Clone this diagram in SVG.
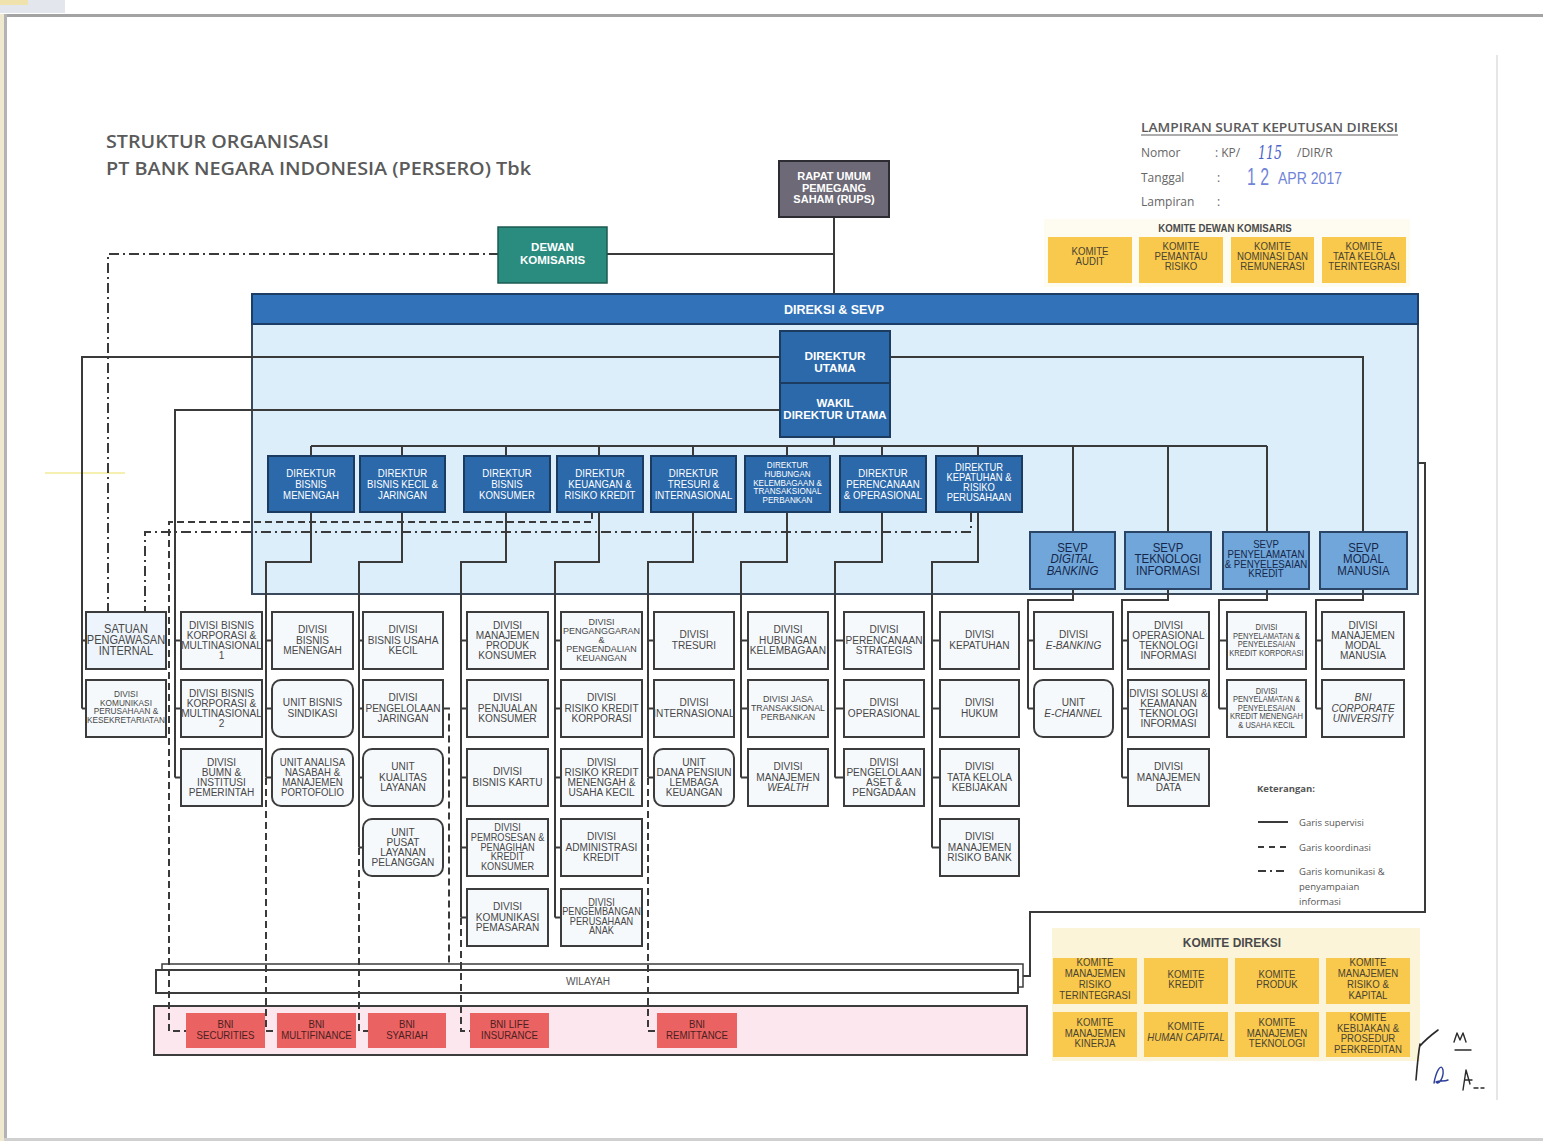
<svg xmlns="http://www.w3.org/2000/svg" width="1543" height="1141" viewBox="0 0 1543 1141">
<style>
  .t{font-family:"Liberation Sans",Arial,sans-serif;text-anchor:middle;transform-box:fill-box;transform-origin:50% 50%;transform:scaleX(0.92)}
  .ns{transform:none}
  .dv{font-size:11px;fill:#474747}
  .xs{font-size:8.2px}
  .wt{fill:#fff}
  .b{font-weight:bold}
  .dk{fill:#16264a}
  .it{font-style:italic}
  .km{font-size:10.5px;fill:#4a4232}
  .ln{fill:none;stroke:#3a3a3a;stroke-width:2}
  .dsh{stroke-dasharray:7 4}
  .dd{stroke-dasharray:10 4 2 4}
  .box{fill:#f6f9fc;stroke:#3c3c3c;stroke-width:2}
  .dir{fill:#2b69ab;stroke:#1b3b60;stroke-width:2}
  .sevp{fill:#70a6d9;stroke:#2a4565;stroke-width:2}
  .kom{fill:#f8c94c}
  .sub{fill:#ea6262}
  .hd{font-family:"Open Sans","Liberation Sans",sans-serif;fill:#5a5a5a}
</style>

<!-- page and viewer frame -->
<rect x="0" y="0" width="1543" height="1141" fill="#ffffff"/>
<rect x="0" y="0" width="65" height="13" fill="#e3e6ed"/>
<rect x="0" y="0" width="28" height="5" fill="#f0e2ad"/>
<rect x="0" y="14" width="4" height="1127" fill="#efe9cf"/>
<rect x="4" y="14" width="1539" height="3" fill="#a3a3a3"/>
<rect x="4" y="14" width="3" height="1127" fill="#b3b3b3"/>
<rect x="4" y="1138" width="1539" height="3" fill="#d0d0d0"/>
<line x1="1497" y1="55" x2="1497" y2="1100" stroke="#e6e6e6" stroke-width="2"/>
<line x1="45" y1="473" x2="125" y2="473" stroke="#f6f0b0" stroke-width="2"/>

<!-- title -->
<g id="title" class="hd" font-weight="600" font-size="18.5">
  <text x="106" y="148" textLength="223" lengthAdjust="spacingAndGlyphs">STRUKTUR ORGANISASI</text>
  <text x="106" y="175" textLength="425" lengthAdjust="spacingAndGlyphs">PT BANK NEGARA INDONESIA (PERSERO) Tbk</text>
</g>

<!-- decree reference block -->
<g id="lampiran" class="hd">
  <text x="1141" y="132" font-size="12.5" font-weight="600" textLength="257" lengthAdjust="spacingAndGlyphs">LAMPIRAN SURAT KEPUTUSAN DIREKSI</text>
  <line x1="1141" y1="135" x2="1398" y2="135" stroke="#5a5a5a" stroke-width="1"/>
  <text x="1141" y="157" font-size="12" fill="#666">Nomor</text>
  <text x="1215" y="157" font-size="12" fill="#666">: KP/</text>
  <text x="1258" y="159" font-size="19" fill="#4d63c8" font-family="'DejaVu Serif',serif" font-style="italic" textLength="24" lengthAdjust="spacingAndGlyphs">115</text>
  <text x="1297" y="157" font-size="12" fill="#666">/DIR/R</text>
  <text x="1141" y="182" font-size="12" fill="#666">Tanggal</text>
  <text x="1217" y="182" font-size="12" fill="#666">:</text>
  <text x="1247" y="185" font-family="'Liberation Sans',sans-serif" font-size="23" fill="#7284d8" textLength="22" lengthAdjust="spacingAndGlyphs">1 2</text>
  <text x="1278" y="184" font-family="'Liberation Sans',sans-serif" font-size="17" fill="#7284d8" textLength="64" lengthAdjust="spacingAndGlyphs">APR 2017</text>
  <text x="1141" y="206" font-size="12" fill="#666">Lampiran</text>
  <text x="1217" y="206" font-size="12" fill="#666">:</text>
</g>

<!-- board of commissioners committees -->
<g id="komite-dekom">
  <rect x="1044" y="219" width="366" height="68" fill="#fefbf1"/>
  <text class="t" x="1225" y="232" font-size="10.5" font-weight="bold" fill="#4a4a4a">KOMITE DEWAN KOMISARIS</text>
  <rect class="kom" x="1048" y="237" width="84" height="46"/>
  <text class="t km" x="1090" y="255"><tspan x="1090">KOMITE</tspan><tspan x="1090" dy="10">AUDIT</tspan></text>
  <rect class="kom" x="1139" y="237" width="84" height="46"/>
  <text class="t km" x="1181" y="250"><tspan x="1181">KOMITE</tspan><tspan x="1181" dy="10">PEMANTAU</tspan><tspan x="1181" dy="10">RISIKO</tspan></text>
  <rect class="kom" x="1231" y="237" width="83" height="46"/>
  <text class="t km" x="1272.5" y="250"><tspan x="1272.5">KOMITE</tspan><tspan x="1272.5" dy="10">NOMINASI DAN</tspan><tspan x="1272.5" dy="10">REMUNERASI</tspan></text>
  <rect class="kom" x="1322" y="237" width="84" height="46"/>
  <text class="t km" x="1364" y="250"><tspan x="1364">KOMITE</tspan><tspan x="1364" dy="10">TATA KELOLA</tspan><tspan x="1364" dy="10">TERINTEGRASI</tspan></text>
</g>

<!-- board of directors frame -->
<g id="direksi-sevp">
  <rect x="252" y="294" width="1166" height="300" fill="#dceef9" stroke="#3a4a5c" stroke-width="2"/>
  <rect x="252" y="294" width="1166" height="30" fill="#3172b9" stroke="#1c3d66" stroke-width="2"/>
  <text class="t ns wt b" x="834" y="314" font-size="12.5">DIREKSI &amp; SEVP</text>
</g>

<!-- regional offices and subsidiaries bands -->
<g id="wilayah">
  <rect x="162" y="964" width="861" height="23" fill="#fff" stroke="#3c3c3c" stroke-width="1.5"/>
  <rect x="156" y="970" width="862" height="23" fill="#fff" stroke="#3c3c3c" stroke-width="2"/>
  <text class="t" x="588" y="985.5" font-size="11" fill="#555">WILAYAH</text>
</g>
<rect id="anak-perusahaan" x="154" y="1006" width="873" height="49" fill="#fbe7ed" stroke="#3c3c3c" stroke-width="2"/>

<!-- connectors -->
<g id="connectors">
  <path class="ln" d="M834,217V294 M606,254H834"/>
  <path class="ln" d="M780,357H82V708.5 M82,640.5H86 M82,708.5H86"/>
  <path class="ln" d="M780,410H175V777.5 M175,640.5H181 M175,708.5H181 M175,777.5H181"/>
  <path class="ln" d="M889,357H1363V532"/>
  <path class="ln" d="M834,437V446 M311,446H1267 M311,446V456 M402,446V456 M506,446V456 M599,446V456 M693,446V456 M787,446V456 M882,446V456 M978,446V456 M1073,446V532 M1168,446V532 M1267,446V532"/>
  <!-- director columns -->
  <path class="ln" d="M311,512V562H266V777.5 M266,640.5H272 M266,708.5H272 M266,777.5H272"/>
  <path class="ln" d="M402,512V562H359V847.5 M359,640.5H363 M359,708.5H363 M359,777.5H363 M359,847.5H363"/>
  <path class="ln" d="M506,512V562H461V917.5 M461,640.5H467 M461,708.5H467 M461,777.5H467 M461,847.5H467 M461,917.5H467"/>
  <path class="ln" d="M599,512V562H555V917.5 M555,640.5H561 M555,708.5H561 M555,777.5H561 M555,847.5H561 M555,917.5H561"/>
  <path class="ln" d="M693,512V562H648V777.5 M648,640.5H654 M648,708.5H654 M648,777.5H654"/>
  <path class="ln" d="M787,512V562H741V777.5 M741,640.5H748 M741,708.5H748 M741,777.5H748"/>
  <path class="ln" d="M882,512V562H835V777.5 M835,640.5H844 M835,708.5H844 M835,777.5H844"/>
  <path class="ln" d="M978,512V562H932V847.5 M932,640.5H940 M932,708.5H940 M932,777.5H940 M932,847.5H940"/>
  <!-- SEVP columns -->
  <path class="ln" d="M1073,589V600H1028V708.5 M1028,640.5H1034 M1028,708.5H1034"/>
  <path class="ln" d="M1168,589V600H1122V777.5 M1122,640.5H1128 M1122,708.5H1128 M1122,777.5H1128"/>
  <path class="ln" d="M1267,589V600H1219V708.5 M1219,640.5H1227 M1219,708.5H1227"/>
  <path class="ln" d="M1363,589V600H1316V708.5 M1316,640.5H1322 M1316,708.5H1322"/>
  <!-- regional offices supervision -->
  <path class="ln" d="M1418,463H1425V912H1030V976H1023"/>
  <!-- coordination lines -->
  <path class="ln dsh" d="M592,512V522H169V1031H186"/>
  <path class="ln dsh" d="M266,778V1031H277"/>
  <path class="ln dsh" d="M359,848V1031H368"/>
  <path class="ln dsh" d="M443,708.5H449V965"/>
  <path class="ln dsh" d="M461,918V1031H470"/>
  <path class="ln dsh" d="M648,778V1031H657"/>
  <!-- communication lines -->
  <path class="ln dd" d="M499,254H108V612"/>
  <path class="ln dd" d="M971,512V532H145V612"/>
</g>

<!-- shareholders and board -->
<g id="rups">
  <rect x="779" y="161" width="110" height="56" fill="#6d6976" stroke="#2e2c33" stroke-width="2"/>
  <text class="t ns wt b" x="834" y="180" font-size="11"><tspan x="834">RAPAT UMUM</tspan><tspan x="834" dy="11.5">PEMEGANG</tspan><tspan x="834" dy="11.5">SAHAM (RUPS)</tspan></text>
</g>
<g id="dewan-komisaris">
  <rect x="498" y="227" width="109" height="56" fill="#2a8b7f" stroke="#1c5a52" stroke-width="1.5"/>
  <text class="t ns wt b" x="552.5" y="251" font-size="11.5"><tspan x="552.5">DEWAN</tspan><tspan x="552.5" dy="13">KOMISARIS</tspan></text>
</g>
<g id="direktur-utama">
  <rect class="dir" x="780" y="331" width="110" height="52"/>
  <text class="t ns wt b" x="835" y="360" font-size="11.8"><tspan x="835">DIREKTUR</tspan><tspan x="835" dy="12">UTAMA</tspan></text>
</g>
<g id="wakil-direktur-utama">
  <rect class="dir" x="780" y="383" width="110" height="54"/>
  <text class="t ns wt b" x="835" y="407" font-size="11.5"><tspan x="835">WAKIL</tspan><tspan x="835" dy="12">DIREKTUR UTAMA</tspan></text>
</g>

<!-- directors -->
<g id="dir-bisnis-menengah"><rect class="dir" x="268" y="456" width="86" height="56"/>
  <text class="t wt" x="311" y="477" font-size="10.5"><tspan x="311">DIREKTUR</tspan><tspan x="311" dy="10.8">BISNIS</tspan><tspan x="311" dy="10.8">MENENGAH</tspan></text></g>
<g id="dir-bisnis-kecil"><rect class="dir" x="360" y="456" width="85" height="56"/>
  <text class="t wt" x="402.5" y="477" font-size="10.5"><tspan x="402.5">DIREKTUR</tspan><tspan x="402.5" dy="10.8">BISNIS KECIL &amp;</tspan><tspan x="402.5" dy="10.8">JARINGAN</tspan></text></g>
<g id="dir-bisnis-konsumer"><rect class="dir" x="464" y="456" width="86" height="56"/>
  <text class="t wt" x="507" y="477" font-size="10.5"><tspan x="507">DIREKTUR</tspan><tspan x="507" dy="10.8">BISNIS</tspan><tspan x="507" dy="10.8">KONSUMER</tspan></text></g>
<g id="dir-keuangan"><rect class="dir" x="557" y="456" width="86" height="56"/>
  <text class="t wt" x="600" y="477" font-size="10.5"><tspan x="600">DIREKTUR</tspan><tspan x="600" dy="10.8">KEUANGAN &amp;</tspan><tspan x="600" dy="10.8">RISIKO KREDIT</tspan></text></g>
<g id="dir-tresuri"><rect class="dir" x="651" y="456" width="85" height="56"/>
  <text class="t wt" x="693.5" y="477" font-size="10.5"><tspan x="693.5">DIREKTUR</tspan><tspan x="693.5" dy="10.8">TRESURI &amp;</tspan><tspan x="693.5" dy="10.8">INTERNASIONAL</tspan></text></g>
<g id="dir-hubungan-kelembagaan"><rect class="dir" x="745" y="456" width="85" height="56"/>
  <text class="t wt" x="787.5" y="468.5" font-size="8.8"><tspan x="787.5">DIREKTUR</tspan><tspan x="787.5" dy="8.6">HUBUNGAN</tspan><tspan x="787.5" dy="8.6">KELEMBAGAAN &amp;</tspan><tspan x="787.5" dy="8.6">TRANSAKSIONAL</tspan><tspan x="787.5" dy="8.6">PERBANKAN</tspan></text></g>
<g id="dir-perencanaan"><rect class="dir" x="840" y="456" width="86" height="56"/>
  <text class="t wt" x="883" y="477" font-size="10.5"><tspan x="883">DIREKTUR</tspan><tspan x="883" dy="10.8">PERENCANAAN</tspan><tspan x="883" dy="10.8">&amp; OPERASIONAL</tspan></text></g>
<g id="dir-kepatuhan"><rect class="dir" x="936" y="456" width="86" height="56"/>
  <text class="t wt" x="979" y="471.5" font-size="10.2"><tspan x="979">DIREKTUR</tspan><tspan x="979" dy="10">KEPATUHAN &amp;</tspan><tspan x="979" dy="10">RISIKO</tspan><tspan x="979" dy="10">PERUSAHAAN</tspan></text></g>

<!-- SEVP -->
<g id="sevp-digital-banking"><rect class="sevp" x="1030" y="532" width="85" height="57"/>
  <text class="t dk" x="1072.5" y="552" font-size="12.5"><tspan x="1072.5">SEVP</tspan><tspan x="1072.5" dy="11.5" class="it">DIGITAL</tspan><tspan x="1072.5" dy="11.5" class="it">BANKING</tspan></text></g>
<g id="sevp-teknologi"><rect class="sevp" x="1125" y="532" width="86" height="57"/>
  <text class="t dk" x="1168" y="552" font-size="12.5"><tspan x="1168">SEVP</tspan><tspan x="1168" dy="11.5">TEKNOLOGI</tspan><tspan x="1168" dy="11.5">INFORMASI</tspan></text></g>
<g id="sevp-penyelamatan"><rect class="sevp" x="1223" y="532" width="86" height="57"/>
  <text class="t dk" x="1266" y="548" font-size="10.5"><tspan x="1266">SEVP</tspan><tspan x="1266" dy="9.8">PENYELAMATAN</tspan><tspan x="1266" dy="9.8">&amp; PENYELESAIAN</tspan><tspan x="1266" dy="9.8">KREDIT</tspan></text></g>
<g id="sevp-modal-manusia"><rect class="sevp" x="1320" y="532" width="87" height="57"/>
  <text class="t dk" x="1363.5" y="552" font-size="12.5"><tspan x="1363.5">SEVP</tspan><tspan x="1363.5" dy="11.5">MODAL</tspan><tspan x="1363.5" dy="11.5">MANUSIA</tspan></text></g>

<!-- units under Direktur Utama -->
<g id="div-spi"><rect class="box" x="86" y="612" width="80" height="57" style="fill:#edf4fb"/>
  <text class="t dv" x="126" y="633.5" style="font-size:12px"><tspan x="126">SATUAN</tspan><tspan x="126" dy="10.8">PENGAWASAN</tspan><tspan x="126" dy="10.8">INTERNAL</tspan></text></g>
<g id="div-komunikasi-perusahaan"><rect class="box" x="86" y="680" width="80" height="57"/>
  <text class="t dv" x="126" y="697.5" style="font-size:9px"><tspan x="126">DIVISI</tspan><tspan x="126" dy="8.4">KOMUNIKASI</tspan><tspan x="126" dy="8.4">PERUSAHAAN &amp;</tspan><tspan x="126" dy="8.4">KESEKRETARIATAN</tspan></text></g>

<!-- units under Wakil Direktur Utama -->
<g id="div-korporasi-1"><rect class="box" x="181" y="612" width="81" height="57"/>
  <text class="t dv" x="221.5" y="629"><tspan x="221.5">DIVISI BISNIS</tspan><tspan x="221.5" dy="10">KORPORASI &amp;</tspan><tspan x="221.5" dy="10">MULTINASIONAL</tspan><tspan x="221.5" dy="10">1</tspan></text></g>
<g id="div-korporasi-2"><rect class="box" x="181" y="680" width="81" height="57"/>
  <text class="t dv" x="221.5" y="697"><tspan x="221.5">DIVISI BISNIS</tspan><tspan x="221.5" dy="10">KORPORASI &amp;</tspan><tspan x="221.5" dy="10">MULTINASIONAL</tspan><tspan x="221.5" dy="10">2</tspan></text></g>
<g id="div-bumn"><rect class="box" x="181" y="749" width="81" height="57"/>
  <text class="t dv" x="221.5" y="766"><tspan x="221.5">DIVISI</tspan><tspan x="221.5" dy="10">BUMN &amp;</tspan><tspan x="221.5" dy="10">INSTITUSI</tspan><tspan x="221.5" dy="10">PEMERINTAH</tspan></text></g>

<!-- Bisnis Menengah -->
<g id="div-bisnis-menengah"><rect class="box" x="272" y="612" width="81" height="57"/>
  <text class="t dv" x="312.5" y="633.5"><tspan x="312.5">DIVISI</tspan><tspan x="312.5" dy="10.5">BISNIS</tspan><tspan x="312.5" dy="10.5">MENENGAH</tspan></text></g>
<g id="unit-sindikasi"><rect class="box" x="272" y="680" width="81" height="57" rx="9"/>
  <text class="t dv" x="312.5" y="706.5"><tspan x="312.5">UNIT BISNIS</tspan><tspan x="312.5" dy="11">SINDIKASI</tspan></text></g>
<g id="unit-analisa-nasabah"><rect class="box" x="272" y="749" width="81" height="57" rx="9"/>
  <text class="t dv" x="312.5" y="766" style="font-size:10.5px"><tspan x="312.5">UNIT ANALISA</tspan><tspan x="312.5" dy="10">NASABAH &amp;</tspan><tspan x="312.5" dy="10">MANAJEMEN</tspan><tspan x="312.5" dy="10">PORTOFOLIO</tspan></text></g>

<!-- Bisnis Kecil & Jaringan -->
<g id="div-usaha-kecil"><rect class="box" x="363" y="612" width="80" height="57"/>
  <text class="t dv" x="403" y="633.5"><tspan x="403">DIVISI</tspan><tspan x="403" dy="10.5">BISNIS USAHA</tspan><tspan x="403" dy="10.5">KECIL</tspan></text></g>
<g id="div-pengelolaan-jaringan"><rect class="box" x="363" y="680" width="80" height="57"/>
  <text class="t dv" x="403" y="701.5"><tspan x="403">DIVISI</tspan><tspan x="403" dy="10.5">PENGELOLAAN</tspan><tspan x="403" dy="10.5">JARINGAN</tspan></text></g>
<g id="unit-kualitas-layanan"><rect class="box" x="363" y="749" width="80" height="57" rx="9"/>
  <text class="t dv" x="403" y="770.5"><tspan x="403">UNIT</tspan><tspan x="403" dy="10.5">KUALITAS</tspan><tspan x="403" dy="10.5">LAYANAN</tspan></text></g>
<g id="unit-pusat-layanan"><rect class="box" x="363" y="819" width="80" height="57" rx="9"/>
  <text class="t dv" x="403" y="836"><tspan x="403">UNIT</tspan><tspan x="403" dy="10">PUSAT</tspan><tspan x="403" dy="10">LAYANAN</tspan><tspan x="403" dy="10">PELANGGAN</tspan></text></g>

<!-- Bisnis Konsumer -->
<g id="div-produk-konsumer"><rect class="box" x="467" y="612" width="81" height="57"/>
  <text class="t dv" x="507.5" y="629"><tspan x="507.5">DIVISI</tspan><tspan x="507.5" dy="10">MANAJEMEN</tspan><tspan x="507.5" dy="10">PRODUK</tspan><tspan x="507.5" dy="10">KONSUMER</tspan></text></g>
<g id="div-penjualan-konsumer"><rect class="box" x="467" y="680" width="81" height="57"/>
  <text class="t dv" x="507.5" y="701.5"><tspan x="507.5">DIVISI</tspan><tspan x="507.5" dy="10.5">PENJUALAN</tspan><tspan x="507.5" dy="10.5">KONSUMER</tspan></text></g>
<g id="div-bisnis-kartu"><rect class="box" x="467" y="749" width="81" height="57"/>
  <text class="t dv" x="507.5" y="775.5"><tspan x="507.5">DIVISI</tspan><tspan x="507.5" dy="11">BISNIS KARTU</tspan></text></g>
<g id="div-pemrosesan-kredit"><rect class="box" x="467" y="819" width="81" height="57"/>
  <text class="t dv" x="507.5" y="831.5" style="font-size:10px"><tspan x="507.5">DIVISI</tspan><tspan x="507.5" dy="9.6">PEMROSESAN &amp;</tspan><tspan x="507.5" dy="9.6">PENAGIHAN</tspan><tspan x="507.5" dy="9.6">KREDIT</tspan><tspan x="507.5" dy="9.6">KONSUMER</tspan></text></g>
<g id="div-komunikasi-pemasaran"><rect class="box" x="467" y="889" width="81" height="57"/>
  <text class="t dv" x="507.5" y="910.5"><tspan x="507.5">DIVISI</tspan><tspan x="507.5" dy="10.5">KOMUNIKASI</tspan><tspan x="507.5" dy="10.5">PEMASARAN</tspan></text></g>

<!-- Keuangan & Risiko Kredit -->
<g id="div-penganggaran"><rect class="box" x="561" y="612" width="81" height="57"/>
  <text class="t dv" x="601.5" y="625.5" style="font-size:9.8px"><tspan x="601.5">DIVISI</tspan><tspan x="601.5" dy="9">PENGANGGARAN</tspan><tspan x="601.5" dy="9">&amp;</tspan><tspan x="601.5" dy="9">PENGENDALIAN</tspan><tspan x="601.5" dy="9">KEUANGAN</tspan></text></g>
<g id="div-risiko-korporasi"><rect class="box" x="561" y="680" width="81" height="57"/>
  <text class="t dv" x="601.5" y="701.5"><tspan x="601.5">DIVISI</tspan><tspan x="601.5" dy="10.5">RISIKO KREDIT</tspan><tspan x="601.5" dy="10.5">KORPORASI</tspan></text></g>
<g id="div-risiko-menengah"><rect class="box" x="561" y="749" width="81" height="57"/>
  <text class="t dv" x="601.5" y="766"><tspan x="601.5">DIVISI</tspan><tspan x="601.5" dy="10">RISIKO KREDIT</tspan><tspan x="601.5" dy="10">MENENGAH &amp;</tspan><tspan x="601.5" dy="10">USAHA KECIL</tspan></text></g>
<g id="div-administrasi-kredit"><rect class="box" x="561" y="819" width="81" height="57"/>
  <text class="t dv" x="601.5" y="840.5"><tspan x="601.5">DIVISI</tspan><tspan x="601.5" dy="10.5">ADMINISTRASI</tspan><tspan x="601.5" dy="10.5">KREDIT</tspan></text></g>
<g id="div-perusahaan-anak"><rect class="box" x="561" y="889" width="81" height="57"/>
  <text class="t dv" x="601.5" y="906" style="font-size:10px"><tspan x="601.5">DIVISI</tspan><tspan x="601.5" dy="9.4">PENGEMBANGAN</tspan><tspan x="601.5" dy="9.4">PERUSAHAAN</tspan><tspan x="601.5" dy="9.4">ANAK</tspan></text></g>

<!-- Tresuri & Internasional -->
<g id="div-tresuri"><rect class="box" x="654" y="612" width="80" height="57"/>
  <text class="t dv" x="694" y="638.5"><tspan x="694">DIVISI</tspan><tspan x="694" dy="11">TRESURI</tspan></text></g>
<g id="div-internasional"><rect class="box" x="654" y="680" width="80" height="57"/>
  <text class="t dv" x="694" y="706.5"><tspan x="694">DIVISI</tspan><tspan x="694" dy="11">INTERNASIONAL</tspan></text></g>
<g id="unit-dana-pensiun"><rect class="box" x="654" y="749" width="80" height="57" rx="9"/>
  <text class="t dv" x="694" y="766"><tspan x="694">UNIT</tspan><tspan x="694" dy="10">DANA PENSIUN</tspan><tspan x="694" dy="10">LEMBAGA</tspan><tspan x="694" dy="10">KEUANGAN</tspan></text></g>

<!-- Hubungan Kelembagaan -->
<g id="div-hubungan-kelembagaan"><rect class="box" x="748" y="612" width="80" height="57"/>
  <text class="t dv" x="788" y="633.5"><tspan x="788">DIVISI</tspan><tspan x="788" dy="10.5">HUBUNGAN</tspan><tspan x="788" dy="10.5">KELEMBAGAAN</tspan></text></g>
<g id="div-jasa-transaksional"><rect class="box" x="748" y="680" width="80" height="57"/>
  <text class="t dv" x="788" y="702.5" style="font-size:9.6px"><tspan x="788">DIVISI JASA</tspan><tspan x="788" dy="9">TRANSAKSIONAL</tspan><tspan x="788" dy="9">PERBANKAN</tspan></text></g>
<g id="div-wealth"><rect class="box" x="748" y="749" width="80" height="57"/>
  <text class="t dv" x="788" y="770.5"><tspan x="788">DIVISI</tspan><tspan x="788" dy="10.5">MANAJEMEN</tspan><tspan x="788" dy="10.5" class="it">WEALTH</tspan></text></g>

<!-- Perencanaan & Operasional -->
<g id="div-perencanaan-strategis"><rect class="box" x="844" y="612" width="80" height="57"/>
  <text class="t dv" x="884" y="633.5"><tspan x="884">DIVISI</tspan><tspan x="884" dy="10.5">PERENCANAAN</tspan><tspan x="884" dy="10.5">STRATEGIS</tspan></text></g>
<g id="div-operasional"><rect class="box" x="844" y="680" width="80" height="57"/>
  <text class="t dv" x="884" y="706.5"><tspan x="884">DIVISI</tspan><tspan x="884" dy="11">OPERASIONAL</tspan></text></g>
<g id="div-aset-pengadaan"><rect class="box" x="844" y="749" width="80" height="57"/>
  <text class="t dv" x="884" y="766"><tspan x="884">DIVISI</tspan><tspan x="884" dy="10">PENGELOLAAN</tspan><tspan x="884" dy="10">ASET &amp;</tspan><tspan x="884" dy="10">PENGADAAN</tspan></text></g>

<!-- Kepatuhan & Risiko Perusahaan -->
<g id="div-kepatuhan"><rect class="box" x="940" y="612" width="79" height="57"/>
  <text class="t dv" x="979.5" y="638.5"><tspan x="979.5">DIVISI</tspan><tspan x="979.5" dy="11">KEPATUHAN</tspan></text></g>
<g id="div-hukum"><rect class="box" x="940" y="680" width="79" height="57"/>
  <text class="t dv" x="979.5" y="706.5"><tspan x="979.5">DIVISI</tspan><tspan x="979.5" dy="11">HUKUM</tspan></text></g>
<g id="div-tata-kelola"><rect class="box" x="940" y="749" width="79" height="57"/>
  <text class="t dv" x="979.5" y="770.5"><tspan x="979.5">DIVISI</tspan><tspan x="979.5" dy="10.5">TATA KELOLA</tspan><tspan x="979.5" dy="10.5">KEBIJAKAN</tspan></text></g>
<g id="div-risiko-bank"><rect class="box" x="940" y="819" width="79" height="57"/>
  <text class="t dv" x="979.5" y="840.5"><tspan x="979.5">DIVISI</tspan><tspan x="979.5" dy="10.5">MANAJEMEN</tspan><tspan x="979.5" dy="10.5">RISIKO BANK</tspan></text></g>

<!-- SEVP Digital Banking -->
<g id="div-e-banking"><rect class="box" x="1034" y="612" width="79" height="57"/>
  <text class="t dv" x="1073.5" y="638.5"><tspan x="1073.5">DIVISI</tspan><tspan x="1073.5" dy="11" class="it">E-BANKING</tspan></text></g>
<g id="unit-e-channel"><rect class="box" x="1034" y="680" width="79" height="57" rx="9"/>
  <text class="t dv" x="1073.5" y="706.5"><tspan x="1073.5">UNIT</tspan><tspan x="1073.5" dy="11" class="it">E-CHANNEL</tspan></text></g>

<!-- SEVP Teknologi Informasi -->
<g id="div-operasional-ti"><rect class="box" x="1128" y="612" width="81" height="57"/>
  <text class="t dv" x="1168.5" y="629"><tspan x="1168.5">DIVISI</tspan><tspan x="1168.5" dy="10">OPERASIONAL</tspan><tspan x="1168.5" dy="10">TEKNOLOGI</tspan><tspan x="1168.5" dy="10">INFORMASI</tspan></text></g>
<g id="div-solusi-keamanan-ti"><rect class="box" x="1128" y="680" width="81" height="57"/>
  <text class="t dv" x="1168.5" y="697"><tspan x="1168.5">DIVISI SOLUSI &amp;</tspan><tspan x="1168.5" dy="10">KEAMANAN</tspan><tspan x="1168.5" dy="10">TEKNOLOGI</tspan><tspan x="1168.5" dy="10">INFORMASI</tspan></text></g>
<g id="div-manajemen-data"><rect class="box" x="1128" y="749" width="81" height="57"/>
  <text class="t dv" x="1168.5" y="770.5"><tspan x="1168.5">DIVISI</tspan><tspan x="1168.5" dy="10.5">MANAJEMEN</tspan><tspan x="1168.5" dy="10.5">DATA</tspan></text></g>

<!-- SEVP Penyelamatan & Penyelesaian Kredit -->
<g id="div-ppk-korporasi"><rect class="box" x="1227" y="612" width="79" height="57"/>
  <text class="t dv xs" x="1266.5" y="630"><tspan x="1266.5">DIVISI</tspan><tspan x="1266.5" dy="8.7">PENYELAMATAN &amp;</tspan><tspan x="1266.5" dy="8.7">PENYELESAIAN</tspan><tspan x="1266.5" dy="8.7">KREDIT KORPORASI</tspan></text></g>
<g id="div-ppk-menengah"><rect class="box" x="1227" y="680" width="79" height="57"/>
  <text class="t dv xs" x="1266.5" y="694"><tspan x="1266.5">DIVISI</tspan><tspan x="1266.5" dy="8.5">PENYELAMATAN &amp;</tspan><tspan x="1266.5" dy="8.5">PENYELESAIAN</tspan><tspan x="1266.5" dy="8.5">KREDIT MENENGAH</tspan><tspan x="1266.5" dy="8.5">&amp; USAHA KECIL</tspan></text></g>

<!-- SEVP Modal Manusia -->
<g id="div-modal-manusia"><rect class="box" x="1322" y="612" width="82" height="57"/>
  <text class="t dv" x="1363" y="629"><tspan x="1363">DIVISI</tspan><tspan x="1363" dy="10">MANAJEMEN</tspan><tspan x="1363" dy="10">MODAL</tspan><tspan x="1363" dy="10">MANUSIA</tspan></text></g>
<g id="bni-corporate-university"><rect class="box" x="1322" y="680" width="82" height="57"/>
  <text class="t dv it" x="1363" y="701.5"><tspan x="1363">BNI</tspan><tspan x="1363" dy="10.5">CORPORATE</tspan><tspan x="1363" dy="10.5">UNIVERSITY</tspan></text></g>

<!-- subsidiaries -->
<g id="bni-securities"><rect class="sub" x="186" y="1013" width="79" height="35"/>
  <text class="t" x="225.5" y="1028" font-size="10.5" fill="#4a1f1f"><tspan x="225.5">BNI</tspan><tspan x="225.5" dy="11">SECURITIES</tspan></text></g>
<g id="bni-multifinance"><rect class="sub" x="277" y="1013" width="79" height="35"/>
  <text class="t" x="316.5" y="1028" font-size="10.5" fill="#4a1f1f"><tspan x="316.5">BNI</tspan><tspan x="316.5" dy="11">MULTIFINANCE</tspan></text></g>
<g id="bni-syariah"><rect class="sub" x="368" y="1013" width="78" height="35"/>
  <text class="t" x="407" y="1028" font-size="10.5" fill="#4a1f1f"><tspan x="407">BNI</tspan><tspan x="407" dy="11">SYARIAH</tspan></text></g>
<g id="bni-life"><rect class="sub" x="470" y="1013" width="79" height="35"/>
  <text class="t" x="509.5" y="1028" font-size="10.5" fill="#4a1f1f"><tspan x="509.5">BNI LIFE</tspan><tspan x="509.5" dy="11">INSURANCE</tspan></text></g>
<g id="bni-remittance"><rect class="sub" x="657" y="1013" width="80" height="35"/>
  <text class="t" x="697" y="1028" font-size="10.5" fill="#4a1f1f"><tspan x="697">BNI</tspan><tspan x="697" dy="11">REMITTANCE</tspan></text></g>

<!-- legend -->
<g id="keterangan" font-family="'Open Sans','Liberation Sans',sans-serif" font-size="9.5" fill="#555">
  <text x="1257" y="792" font-weight="bold">Keterangan:</text>
  <line class="ln" x1="1258" y1="822" x2="1288" y2="822"/>
  <text x="1299" y="826">Garis supervisi</text>
  <line class="ln" x1="1258" y1="847" x2="1288" y2="847" stroke-dasharray="6 5"/>
  <text x="1299" y="851">Garis koordinasi</text>
  <line class="ln" x1="1258" y1="871" x2="1288" y2="871" stroke-dasharray="8 4 2 4"/>
  <text x="1299" y="875">Garis komunikasi &amp;</text>
  <text x="1299" y="890">penyampaian</text>
  <text x="1299" y="905">informasi</text>
</g>

<!-- board of directors committees -->
<g id="komite-direksi">
  <rect x="1052" y="928" width="368" height="133" fill="#fcf4d9"/>
  <text class="t" x="1232" y="947.5" font-size="13" font-weight="bold" fill="#4a4a4a">KOMITE DIREKSI</text>
  <rect class="kom" x="1053" y="958" width="84" height="46"/>
  <text class="t km" x="1095" y="966.5"><tspan x="1095">KOMITE</tspan><tspan x="1095" dy="10.8">MANAJEMEN</tspan><tspan x="1095" dy="10.8">RISIKO</tspan><tspan x="1095" dy="10.8">TERINTEGRASI</tspan></text>
  <rect class="kom" x="1144" y="958" width="84" height="46"/>
  <text class="t km" x="1186" y="978.5"><tspan x="1186">KOMITE</tspan><tspan x="1186" dy="10">KREDIT</tspan></text>
  <rect class="kom" x="1235" y="958" width="84" height="46"/>
  <text class="t km" x="1277" y="978.5"><tspan x="1277">KOMITE</tspan><tspan x="1277" dy="10">PRODUK</tspan></text>
  <rect class="kom" x="1326" y="958" width="84" height="46"/>
  <text class="t km" x="1368" y="966.5"><tspan x="1368">KOMITE</tspan><tspan x="1368" dy="10.8">MANAJEMEN</tspan><tspan x="1368" dy="10.8">RISIKO &amp;</tspan><tspan x="1368" dy="10.8">KAPITAL</tspan></text>
  <rect class="kom" x="1053" y="1012" width="84" height="45"/>
  <text class="t km" x="1095" y="1026.5"><tspan x="1095">KOMITE</tspan><tspan x="1095" dy="10.5">MANAJEMEN</tspan><tspan x="1095" dy="10.5">KINERJA</tspan></text>
  <rect class="kom" x="1144" y="1012" width="84" height="45"/>
  <text class="t km" x="1186" y="1030.5"><tspan x="1186">KOMITE</tspan><tspan x="1186" dy="11" font-style="italic">HUMAN CAPITAL</tspan></text>
  <rect class="kom" x="1235" y="1012" width="84" height="45"/>
  <text class="t km" x="1277" y="1026.5"><tspan x="1277">KOMITE</tspan><tspan x="1277" dy="10.5">MANAJEMEN</tspan><tspan x="1277" dy="10.5">TEKNOLOGI</tspan></text>
  <rect class="kom" x="1326" y="1012" width="84" height="45"/>
  <text class="t km" x="1368" y="1021.5"><tspan x="1368">KOMITE</tspan><tspan x="1368" dy="10.4">KEBIJAKAN &amp;</tspan><tspan x="1368" dy="10.4">PROSEDUR</tspan><tspan x="1368" dy="10.4">PERKREDITAN</tspan></text>
</g>

<!-- initials -->
<g id="paraf" fill="none" stroke-linecap="round" stroke-linejoin="round">
  <path d="M1416,1080 C1417,1068 1418,1055 1420,1044 M1420,1046 C1425,1040 1430,1036 1438,1030" stroke="#2a2a2a" stroke-width="1.6"/>
  <path d="M1434,1083 C1436,1072 1441,1062 1443,1070 C1444,1078 1438,1086 1436,1082 C1440,1080 1444,1082 1448,1080" stroke="#2e3f9a" stroke-width="1.4"/>
  <path d="M1454,1042 L1457,1033 L1460,1040 L1463,1033 L1466,1042" stroke="#2a2a2a" stroke-width="1.4"/>
  <path d="M1455,1050 H1471" stroke="#2a2a2a" stroke-width="1.4"/>
  <path d="M1463,1090 L1466,1070 L1470,1084 M1465,1080 H1472 M1474,1088 H1478 M1481,1088 H1484" stroke="#2a2a2a" stroke-width="1.4"/>
</g>
</svg>
